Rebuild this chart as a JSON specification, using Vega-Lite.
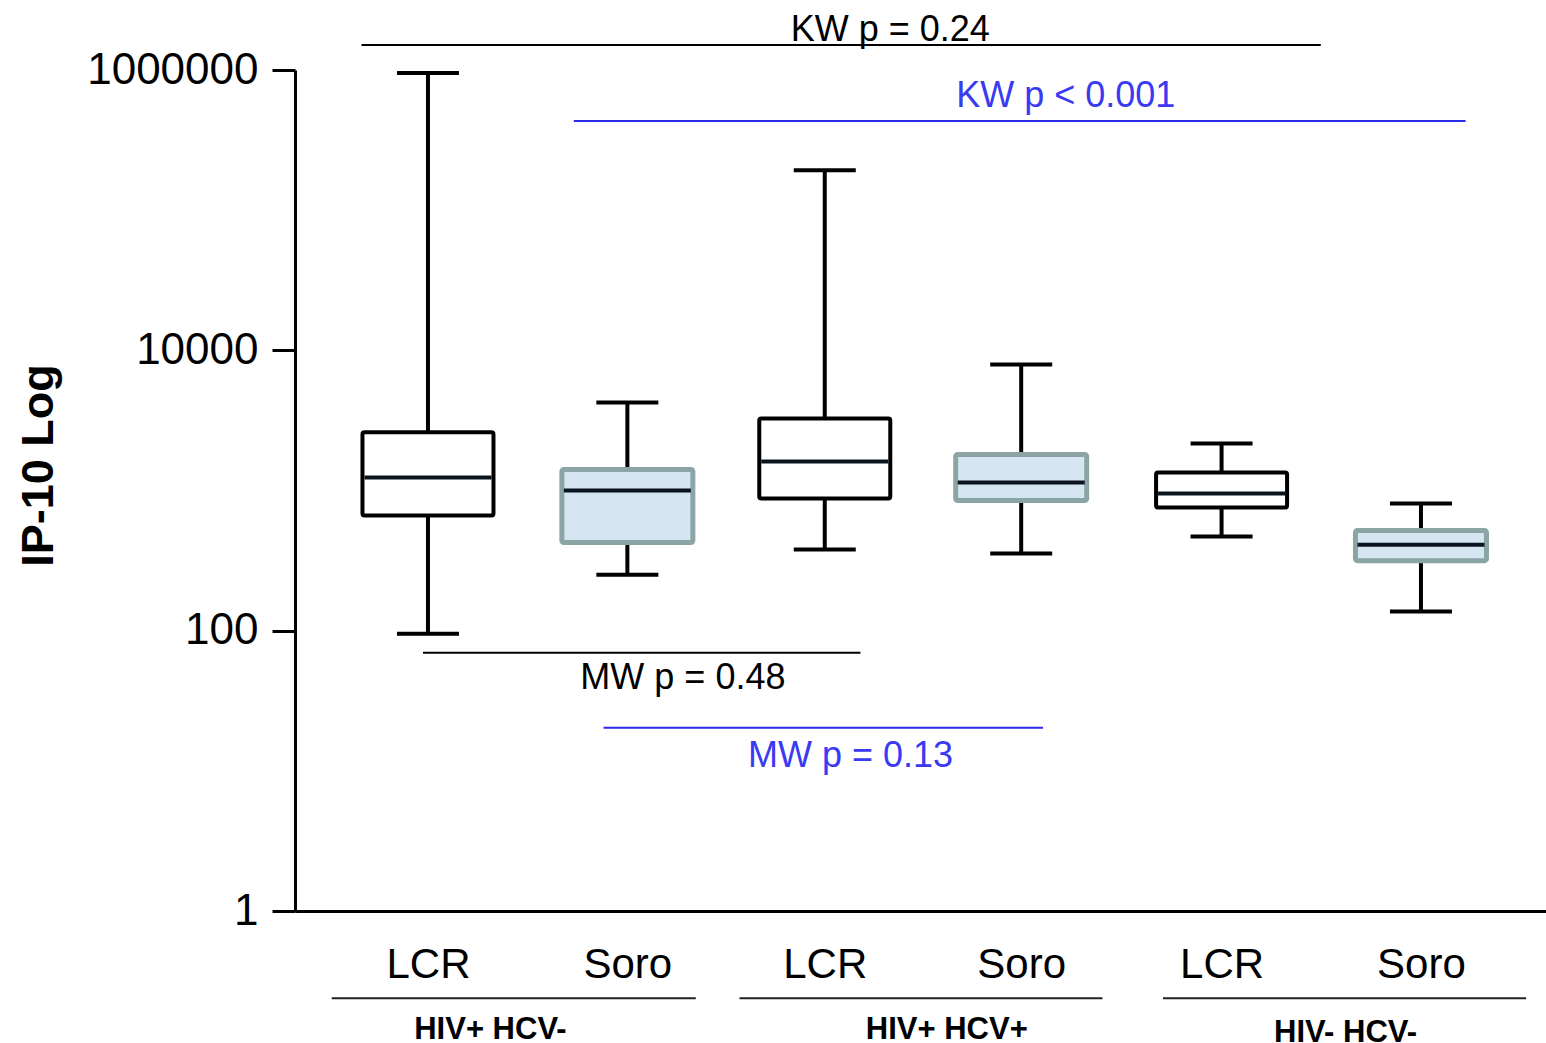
{
  "$schema": "https://vega.github.io/schema/vega-lite/v6.json",
  "width": 1251,
  "height": 841,
  "autosize": {"type": "none"},
  "padding": {"left": 295, "top": 70, "right": 0, "bottom": 132},
  "background": "white",
  "config": {"view": {"stroke": null}, "font": "Liberation Sans"},
  "datasets": {
    "boxes": [
      {"group": "HIV+ HCV-", "sample": "LCR", "pos": 0.645, "low": 95, "q1": 662, "median": 1240, "q3": 2600, "high": 950000},
      {"group": "HIV+ HCV-", "sample": "Soro", "pos": 1.65, "low": 251, "q1": 425, "median": 1000, "q3": 1413, "high": 4250},
      {"group": "HIV+ HCV+", "sample": "LCR", "pos": 2.645, "low": 379, "q1": 877, "median": 1610, "q3": 3270, "high": 193000},
      {"group": "HIV+ HCV+", "sample": "Soro", "pos": 3.635, "low": 355, "q1": 849, "median": 1140, "q3": 1807, "high": 7940},
      {"group": "HIV- HCV-", "sample": "LCR", "pos": 4.645, "low": 469, "q1": 756, "median": 952, "q3": 1345, "high": 2168},
      {"group": "HIV- HCV-", "sample": "Soro", "pos": 5.65, "low": 137, "q1": 316, "median": 411, "q3": 518, "high": 807}
    ],
    "annotations": [
      {"label": "KW p = 0.24", "series": "LCR", "from": 0.31, "to": 5.145, "line": 1510000, "xt": 2.975, "yt": 1600000},
      {"label": "KW p < 0.001", "series": "Soro", "from": 1.38, "to": 5.875, "line": 433000, "xt": 3.86, "yt": 545000},
      {"label": "MW p = 0.48", "series": "LCR", "from": 0.62, "to": 2.825, "line": 69.7, "xt": 1.93, "yt": 38.5},
      {"label": "MW p = 0.13", "series": "Soro", "from": 1.53, "to": 3.745, "line": 20.3, "xt": 2.775, "yt": 10.7}
    ],
    "groups": [
      {"group": "HIV+ HCV-", "from": 0.16, "to": 1.995, "line": 0.239, "xt": 0.96, "yt": 0.122},
      {"group": "HIV+ HCV+", "from": 2.215, "to": 4.045, "line": 0.239, "xt": 3.26, "yt": 0.122},
      {"group": "HIV- HCV-", "from": 4.35, "to": 6.18, "line": 0.239, "xt": 5.27, "yt": 0.117}
    ]
  },
  "layer": [
    {
      "data": {"name": "boxes"},
      "mark": {"type": "rule", "strokeWidth": 4, "color": "black"},
      "encoding": {
        "x": {
          "field": "pos", "type": "quantitative",
          "scale": {"domain": [0, 6.255], "nice": false, "zero": false},
          "axis": {
            "values": [0.645, 1.65, 2.645, 3.635, 4.645, 5.65],
            "labelExpr": "floor(datum.value) % 2 == 0 ? 'LCR' : 'Soro'",
            "title": null, "grid": false, "ticks": false, "tickSize": 0,
            "domain": true, "domainColor": "black", "domainWidth": 3,
            "labelFont": "Liberation Sans", "labelFontSize": 42, "labelColor": "black",
            "labelPadding": 33, "labelFlush": false, "labelOverlap": false
          }
        },
        "y": {
          "field": "low", "type": "quantitative",
          "scale": {"type": "log", "domain": [1, 1000000], "nice": false},
          "axis": {
            "values": [1, 100, 10000, 1000000], "format": "d",
            "title": "IP-10 Log", "grid": false,
            "tickSize": 23, "tickWidth": 3, "tickColor": "black",
            "domainColor": "black", "domainWidth": 3,
            "labelFont": "Liberation Sans", "labelFontSize": 44, "labelColor": "black",
            "labelPadding": 14, "labelOverlap": false,
            "titleFont": "Liberation Sans", "titleFontSize": 45, "titleFontWeight": "bold",
            "titleColor": "black", "titleX": -257, "titleY": 395, "titleAngle": -90,
            "titleAlign": "center", "titleBaseline": "middle"
          }
        },
        "y2": {"field": "high"}
      }
    },
    {
      "data": {"name": "boxes"},
      "mark": {"type": "bar", "size": 131, "cornerRadius": 2},
      "encoding": {
        "x": {"field": "pos", "type": "quantitative"},
        "y": {"field": "q1", "type": "quantitative"},
        "y2": {"field": "q3"},
        "fill": {"field": "sample", "type": "nominal", "scale": {"domain": ["LCR", "Soro"], "range": ["white", "#d5e5f2"]}, "legend": null},
        "stroke": {"field": "sample", "type": "nominal", "scale": {"domain": ["LCR", "Soro"], "range": ["black", "#8ba4a6"]}, "legend": null},
        "strokeWidth": {"field": "sample", "type": "nominal", "scale": {"domain": ["LCR", "Soro"], "range": [4, 5]}, "legend": null}
      }
    },
    {
      "data": {"name": "boxes"},
      "mark": {"type": "tick", "orient": "horizontal", "size": 127, "thickness": 4, "color": "#0a141e", "opacity": 1},
      "encoding": {
        "x": {"field": "pos", "type": "quantitative"},
        "y": {"field": "median", "type": "quantitative"}
      }
    },
    {
      "data": {"name": "boxes"},
      "mark": {"type": "tick", "orient": "horizontal", "size": 62, "thickness": 4, "color": "black", "opacity": 1},
      "encoding": {
        "x": {"field": "pos", "type": "quantitative"},
        "y": {"field": "high", "type": "quantitative"}
      }
    },
    {
      "data": {"name": "boxes"},
      "mark": {"type": "tick", "orient": "horizontal", "size": 62, "thickness": 4, "color": "black", "opacity": 1},
      "encoding": {
        "x": {"field": "pos", "type": "quantitative"},
        "y": {"field": "low", "type": "quantitative"}
      }
    },
    {
      "data": {"name": "annotations"},
      "mark": {"type": "rule", "strokeWidth": 2},
      "encoding": {
        "x": {"field": "from", "type": "quantitative"},
        "x2": {"field": "to"},
        "y": {"field": "line", "type": "quantitative"},
        "color": {"field": "series", "type": "nominal", "scale": {"domain": ["LCR", "Soro"], "range": ["black", "#2b2bea"]}, "legend": null}
      }
    },
    {
      "data": {"name": "annotations"},
      "mark": {"type": "text", "fontSize": 36, "baseline": "alphabetic", "align": "center", "font": "Liberation Sans"},
      "encoding": {
        "x": {"field": "xt", "type": "quantitative"},
        "y": {"field": "yt", "type": "quantitative"},
        "text": {"field": "label"},
        "color": {"field": "series", "type": "nominal", "scale": {"domain": ["LCR", "Soro"], "range": ["black", "#3a3af2"]}, "legend": null}
      }
    },
    {
      "data": {"name": "groups"},
      "mark": {"type": "rule", "strokeWidth": 2, "color": "#222222"},
      "encoding": {
        "x": {"field": "from", "type": "quantitative"},
        "x2": {"field": "to"},
        "y": {"field": "line", "type": "quantitative"}
      }
    },
    {
      "data": {"name": "groups"},
      "mark": {"type": "text", "fontSize": 31, "fontWeight": "bold", "baseline": "alphabetic", "align": "center", "color": "black", "font": "Liberation Sans"},
      "encoding": {
        "x": {"field": "xt", "type": "quantitative"},
        "y": {"field": "yt", "type": "quantitative"},
        "text": {"field": "group"}
      }
    }
  ],
  "resolve": {"scale": {"color": "independent"}}
}
